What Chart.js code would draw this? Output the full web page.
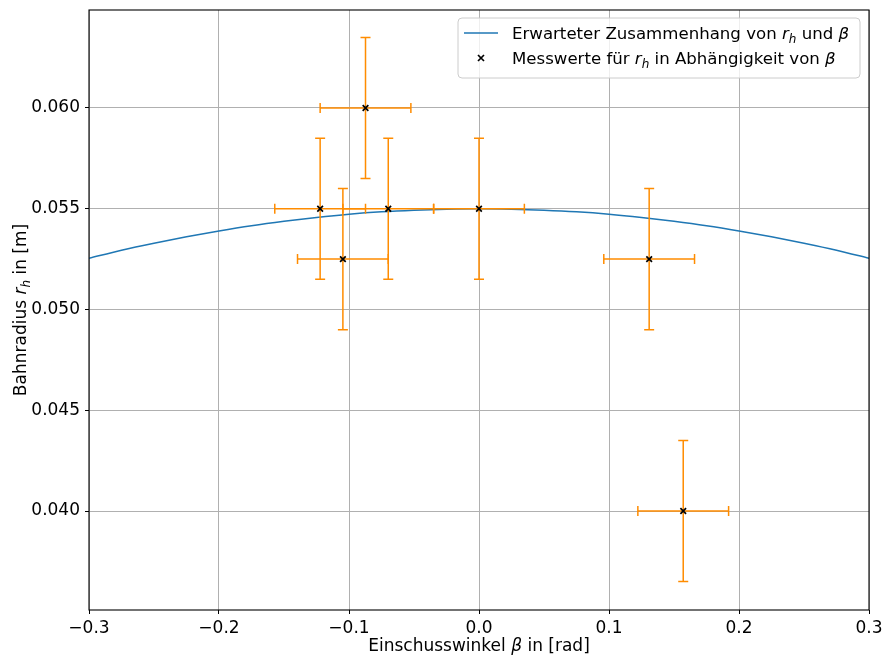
<!DOCTYPE html>
<html>
<head>
<meta charset="utf-8">
<script src="https://cdn.jsdelivr.net/npm/chart.js@4.4.0/dist/chart.umd.min.js"></script>
<style>
  html, body { margin: 0; padding: 0; background: #fff; }
  #wrap { width: 885px; height: 657px; }
</style>
</head>
<body>
<div id="wrap"><canvas id="myChart" width="885" height="657"></canvas></div>
<script>
// measured values (beta in rad, r_h in m)
var betaVals = [-0.0873, -0.1222, -0.1047, -0.0698, 0.0, 0.1309, 0.1571];
var rVals = [0.060, 0.055, 0.0525, 0.055, 0.055, 0.0525, 0.040];
var betaErr = [0.0349, 0.0349, 0.0349, 0.0349, 0.0349, 0.0349, 0.0349];
var rErr = [0.0035, 0.0035, 0.0035, 0.0035, 0.0035, 0.0035, 0.0035];

// expected curve
var curveBeta = [-0.3, -0.275, -0.25, -0.225, -0.2, -0.175, -0.15, -0.125, -0.1, -0.075, -0.05, -0.025, 0,
  0.025, 0.05, 0.075, 0.1, 0.125, 0.15, 0.175, 0.2, 0.225, 0.25, 0.275, 0.3];
var curveR = [0.05254, 0.05294, 0.05329, 0.05361, 0.05390, 0.05416, 0.05438, 0.05457, 0.05473, 0.05485, 0.05493, 0.05498, 0.05500,
  0.05498, 0.05493, 0.05485, 0.05473, 0.05457, 0.05438, 0.05416, 0.05390, 0.05361, 0.05329, 0.05294, 0.05254];

var xTicks = [-0.3, -0.2, -0.1, 0.0, 0.1, 0.2, 0.3];
var yTicks = [0.040, 0.045, 0.050, 0.055, 0.060];

var FONT = "DejaVu Sans";
var FS = 17;
var errColor = "#ff8c00";
var lineColor = "#1f77b4";

function pts(xs, ys) {
  var out = [];
  for (let i = 0; i < xs.length; i++) out.push({ x: xs[i], y: ys[i] });
  return out;
}

// draw text made of segments: normal, italic (math) and subscript
function richText(ctx, segs, x, y, size) {
  let cx = x;
  for (let s of segs) {
    if (s.sub) {
      ctx.font = "oblique " + Math.round(size * 0.7) + "px '" + FONT + "'";
      ctx.fillText(s.t, cx, y + size * 0.22);
    } else {
      ctx.font = (s.it ? "oblique " : "") + size + "px '" + FONT + "'";
      ctx.fillText(s.t, cx, y);
    }
    cx += ctx.measureText(s.t).width;
  }
  return cx - x;
}
function richWidth(ctx, segs, size) {
  let w = 0;
  for (let s of segs) {
    if (s.sub) ctx.font = "oblique " + Math.round(size * 0.7) + "px '" + FONT + "'";
    else ctx.font = (s.it ? "oblique " : "") + size + "px '" + FONT + "'";
    w += ctx.measureText(s.t).width;
  }
  return w;
}

var errorBars = {
  id: "errorBars",
  beforeDatasetDraw: function(chart, args) {
    if (args.index !== 1) return;
    var ctx = chart.ctx, xs = chart.scales.x, ys = chart.scales.y;
    var cap = 5;
    ctx.save();
    ctx.strokeStyle = errColor;
    ctx.lineWidth = 1.5;
    for (let i = 0; i < betaVals.length; i++) {
      let px = xs.getPixelForValue(betaVals[i]);
      let py = ys.getPixelForValue(rVals[i]);
      let x0 = xs.getPixelForValue(betaVals[i] - betaErr[i]);
      let x1 = xs.getPixelForValue(betaVals[i] + betaErr[i]);
      let y0 = ys.getPixelForValue(rVals[i] - rErr[i]);
      let y1 = ys.getPixelForValue(rVals[i] + rErr[i]);
      ctx.beginPath();
      ctx.moveTo(x0, py); ctx.lineTo(x1, py);
      ctx.moveTo(px, y0); ctx.lineTo(px, y1);
      ctx.moveTo(x0, py - cap); ctx.lineTo(x0, py + cap);
      ctx.moveTo(x1, py - cap); ctx.lineTo(x1, py + cap);
      ctx.moveTo(px - cap, y0); ctx.lineTo(px + cap, y0);
      ctx.moveTo(px - cap, y1); ctx.lineTo(px + cap, y1);
      ctx.stroke();
    }
    ctx.restore();
  }
};

var decor = {
  id: "decor",
  afterDraw: function(chart) {
    var ctx = chart.ctx, a = chart.chartArea;
    ctx.save();
    // frame
    ctx.strokeStyle = "#000";
    ctx.lineWidth = 1.1;
    ctx.strokeRect(a.left, a.top, a.right - a.left, a.bottom - a.top);

    ctx.fillStyle = "#000";
    ctx.textBaseline = "alphabetic";
    // x axis title
    var xt = [{ t: "Einschusswinkel " }, { t: "β", it: true }, { t: " in [rad]" }];
    var w = richWidth(ctx, xt, FS);
    richText(ctx, xt, (a.left + a.right) / 2 - w / 2, 651, FS);
    // y axis title
    var yt = [{ t: "Bahnradius " }, { t: "r", it: true }, { t: "h", sub: true }, { t: " in [m]" }];
    w = richWidth(ctx, yt, FS);
    ctx.save();
    ctx.translate(26, (a.top + a.bottom) / 2);
    ctx.rotate(-Math.PI / 2);
    richText(ctx, yt, -w / 2, 0, FS);
    ctx.restore();

    // legend
    var bx = 458, by = 18, bw = 402, bh = 60;
    ctx.beginPath();
    ctx.roundRect(bx, by, bw, bh, 4);
    ctx.fillStyle = "rgba(255,255,255,0.8)";
    ctx.fill();
    ctx.strokeStyle = "#cccccc";
    ctx.lineWidth = 1;
    ctx.stroke();

    ctx.strokeStyle = lineColor;
    ctx.lineWidth = 1.5;
    ctx.beginPath();
    ctx.moveTo(464, 33); ctx.lineTo(498, 33);
    ctx.stroke();

    ctx.strokeStyle = "#000";
    ctx.lineWidth = 1.7;
    ctx.beginPath();
    ctx.moveTo(478, 55); ctx.lineTo(484, 61);
    ctx.moveTo(484, 55); ctx.lineTo(478, 61);
    ctx.stroke();

    ctx.fillStyle = "#000";
    richText(ctx, [{ t: "Erwarteter Zusammenhang von " }, { t: "r", it: true }, { t: "h", sub: true },
      { t: " und " }, { t: "β", it: true }], 512, 39, 16.6);
    richText(ctx, [{ t: "Messwerte für " }, { t: "r", it: true }, { t: "h", sub: true },
      { t: " in Abhängigkeit von " }, { t: "β", it: true }], 512, 64, 16.6);
    ctx.restore();
  }
};

var ctx = document.getElementById("myChart").getContext("2d");
var chart = new Chart(ctx, {
  type: "scatter",
  data: {
    datasets: [
      {
        type: "line",
        label: "Erwarteter Zusammenhang",
        data: pts(curveBeta, curveR),
        borderColor: lineColor,
        borderWidth: 1.5,
        pointRadius: 0,
        cubicInterpolationMode: "monotone",
        fill: false,
        order: 1
      },
      {
        label: "Messwerte",
        data: pts(betaVals, rVals),
        pointStyle: "crossRot",
        pointRadius: 4,
        borderColor: "#000",
        borderWidth: 1.7,
        backgroundColor: "#000",
        order: 0
      }
    ]
  },
  options: {
    responsive: false,
    animation: false,
    layout: { padding: { top: 10, right: 16, left: 0, bottom: 0 } },
    plugins: { legend: { display: false }, tooltip: { enabled: false } },
    scales: {
      x: {
        type: "linear",
        min: -0.3,
        max: 0.3,
        afterBuildTicks: function(s) { s.ticks = xTicks.map(function(v) { return { value: v }; }); },
        afterFit: function(s) { s.height = 47; s.paddingLeft = 0; s.paddingRight = 0; },
        grid: { color: "#b0b0b0", lineWidth: 1, drawTicks: true, tickLength: 4, tickColor: "#000", tickWidth: 1 },
        border: { display: false },
        ticks: {
          color: "#000",
          padding: 4,
          maxRotation: 0,
          font: { family: FONT, size: FS },
          callback: function(v) { return v.toFixed(1).replace("-", "\u2212").replace("\u22120.0", "0.0"); }
        }
      },
      y: {
        type: "linear",
        min: 0.03509,
        max: 0.06486,
        afterBuildTicks: function(s) { s.ticks = yTicks.map(function(v) { return { value: v }; }); },
        afterFit: function(s) { s.width = 89; s.paddingTop = 0; s.paddingBottom = 0; },
        grid: { color: "#b0b0b0", lineWidth: 1, drawTicks: true, tickLength: 4, tickColor: "#000", tickWidth: 1 },
        border: { display: false },
        ticks: {
          color: "#000",
          padding: 5,
          font: { family: FONT, size: FS },
          callback: function(v) { return v.toFixed(3); }
        }
      }
    }
  },
  plugins: [errorBars, decor]
});
</script>
</body>
</html>
